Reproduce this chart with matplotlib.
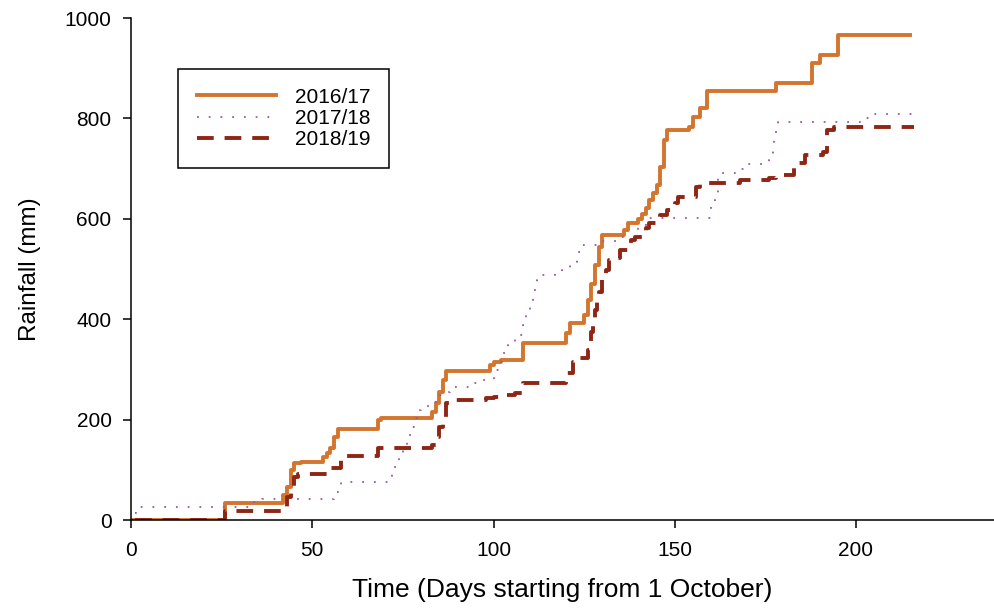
import matplotlib.pyplot as plt

plt.rcParams['font.family'] = ['Liberation Sans', 'DejaVu Sans']

# change points (day, cumulative rainfall in mm)
days_1617 = [0, 26, 42, 43, 44, 45, 47, 53, 54, 55, 56, 57, 68, 69, 83, 84, 85, 86, 87,
             99, 100, 102, 108, 120, 121, 125, 126, 127, 128, 129, 130, 136, 137, 140,
             141, 142, 143, 144, 145, 146, 147, 148, 154, 155, 157, 159, 178, 188, 190,
             195, 215]
rain_1617 = [0, 33, 50, 66, 100, 113, 115, 126, 133, 143, 166, 181, 199, 204, 215, 233,
             255, 279, 296, 309, 315, 319, 352, 372, 392, 408, 438, 470, 508, 544, 568,
             578, 592, 600, 610, 621, 637, 651, 667, 703, 757, 777, 783, 803, 820, 855,
             870, 910, 926, 966, 966]

days_1718 = [1, 1.5, 34, 36, 56, 57, 58, 71, 72, 74, 75, 76, 77, 78, 79, 80, 82, 84, 86,
             88, 94, 97, 100, 102, 104, 106, 107, 108, 109, 110, 111, 112, 113, 117, 119,
             121, 123, 124, 130, 135, 139, 140, 142, 160, 161, 162, 168, 170, 176, 177,
             177.5, 178, 178.5, 202, 204, 218]
rain_1718 = [14, 26, 36, 42, 56, 66, 75, 87, 105, 126, 149, 166, 186, 203, 219, 225, 235,
             249, 255, 265, 273, 279, 299, 332, 352, 362, 368, 388, 412, 432, 458, 478,
             488, 492, 498, 514, 534, 548, 556, 564, 574, 588, 602, 631, 651, 691, 700,
             709, 727, 747, 763, 783, 793, 801, 809, 809]

days_1819 = [1, 26, 42, 43, 44, 45, 46, 54, 58, 59, 68, 83, 84, 85, 86, 87, 88, 98, 100,
             103, 106, 108, 120, 122, 124, 126, 126.5, 127, 127.5, 128, 128.5, 129, 130,
             131, 132, 133, 135, 137, 138, 139, 142, 143, 146, 148, 150, 151, 156, 157,
             168, 176, 178, 183, 186, 191, 192, 194, 216]
rain_1819 = [0, 18, 26, 46, 60, 86, 92, 103, 123, 127, 143, 149, 166, 186, 203, 233, 239,
             243, 245, 249, 253, 273, 293, 315, 323, 339, 352, 375, 398, 418, 438, 454,
             484, 498, 518, 522, 538, 542, 558, 564, 582, 592, 608, 618, 631, 643, 663,
             671, 677, 681, 687, 711, 727, 733, 777, 783, 783]

labels = ['2016/17', '2017/18', '2018/19']

fig = plt.figure(figsize=(9.95, 6.09), dpi=100)
ax = fig.add_axes([0.1317, 0.1461, 0.867, 0.8243])

ax.plot(days_1617, rain_1617, drawstyle='steps-post', color='#D4752F', lw=2.8,
        label=labels[0])
ax.plot(days_1718, rain_1718, drawstyle='steps-post', color='#9A5A9A', lw=1.3,
        linestyle=(0, (1, 5.5)), label=labels[1])
ax.plot(days_1819, rain_1819, drawstyle='steps-post', color='#8E2616', lw=2.8,
        linestyle=(0, (4.3, 2.8)), label=labels[2])

ax.set_xlim(0, 238)
ax.set_ylim(0, 1000)
ax.set_xticks([0, 50, 100, 150, 200])
ax.set_yticks([0, 200, 400, 600, 800, 1000])

for s in ['top', 'right']:
    ax.spines[s].set_visible(False)
for s in ['left', 'bottom']:
    ax.spines[s].set_linewidth(1.1)

ax.tick_params(axis='x', direction='out', length=6, width=1.1, labelsize=15, pad=9)
ax.tick_params(axis='y', direction='out', length=6, width=1.1, labelsize=15, pad=8)

ax.set_xlabel('Time (Days starting from 1 October)', fontsize=19, labelpad=13)
ax.set_ylabel('Rainfall (mm)', fontsize=17.5, labelpad=17)

leg = ax.legend(loc='upper left', bbox_to_anchor=(178 / 995, 1 - 69 / 609),
                bbox_transform=fig.transFigure, borderaxespad=0, fontsize=15,
                handlelength=3.8, handletextpad=0.9, labelspacing=0.1,
                borderpad=0.9, fancybox=False, framealpha=1)
leg.get_frame().set_edgecolor('black')
leg.get_frame().set_linewidth(1.1)

plt.savefig('out.png', dpi=100)
